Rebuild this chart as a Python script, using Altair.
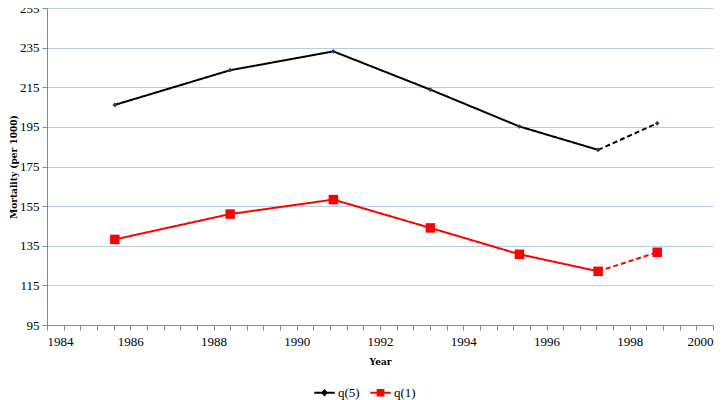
import altair as alt
import pandas as pd

years = [1985.63, 1988.40, 1990.88, 1993.21, 1995.35, 1997.24, 1998.66]
q5 = [206.1, 223.6, 233.1, 213.8, 195.2, 183.4, 196.8]
q1 = [138.2, 151.0, 158.3, 144.0, 130.7, 122.1, 131.7]
series_names = ["q(5)", "q(1)"]
series_colors = ["#000000", "#ff0000"]
y_ticks = [95, 115, 135, 155, 175, 195, 215, 235, 255]
x_ticks = [round(1984 + 0.4 * i, 1) for i in range(41)]

pts = []
lines = []
for name, vals in zip(series_names, [q5, q1]):
    for i, (x, v) in enumerate(zip(years, vals)):
        pts.append({"Year": x, "Value": v, "Series": name})
        if i <= 5:
            lines.append({"Year": x, "Value": v, "Series": name, "seg": "solid", "grp": name + "a"})
        if i >= 5:
            lines.append({"Year": x, "Value": v, "Series": name, "seg": "dashed", "grp": name + "b"})
pts = pd.DataFrame(pts)
lines = pd.DataFrame(lines)

xs = alt.Scale(domain=[1984, 2000], nice=False, zero=False)
ys = alt.Scale(domain=[95, 255], nice=False, zero=False)
cs = alt.Scale(domain=series_names, range=series_colors)

xax = alt.Axis(values=x_ticks, tickCount=len(x_ticks), grid=False, labelOverlap=False,
               labelExpr="abs(datum.value - round(datum.value/2)*2) < 0.01 ? format(datum.value, 'd') : ''",
               title="Year", tickSize=5, labelPadding=5, titlePadding=9)
yax = alt.Axis(values=y_ticks, tickCount=len(y_ticks), grid=True, gridColor="#b9c9e6", gridWidth=1,
               labelOverlap=False, title="Mortality (per 1000)", tickSize=5, labelPadding=3, titlePadding=1)

base = alt.Chart(pts)

legend_shapes = [
    "M-1,0H1M0,-0.22L0.22,0L0,0.22L-0.22,0Z",
    "M-1,0H1M-0.28,-0.28H0.28V0.28H-0.28Z",
]
leg_def = alt.Legend(title=None, orient="none", direction="horizontal", legendX=266, legendY=373)
leg = base.transform_filter("false").mark_point(filled=True, opacity=1).encode(
    x=alt.X("Year:Q", scale=xs, axis=xax),
    y=alt.Y("Value:Q", scale=ys, axis=yax),
    color=alt.Color("Series:N", scale=cs, sort=series_names, legend=leg_def),
    stroke=alt.Stroke("Series:N", scale=alt.Scale(domain=series_names, range=series_colors),
                      sort=series_names, legend=leg_def),
    shape=alt.Shape("Series:N", scale=alt.Scale(domain=series_names, range=legend_shapes),
                    sort=series_names, legend=leg_def),
)

line = alt.Chart(lines).mark_line(strokeWidth=2).encode(
    x=alt.X("Year:Q", scale=xs),
    y=alt.Y("Value:Q", scale=ys),
    color=alt.Color("Series:N", scale=cs, sort=series_names, legend=leg_def),
    detail="grp:N",
    strokeDash=alt.StrokeDash("seg:N", scale=alt.Scale(domain=["solid", "dashed"], range=[[1, 0], [5, 3]]), legend=None),
)

p5 = base.transform_filter(alt.datum.Series == "q(5)").mark_point(
    shape="diamond", filled=True, opacity=1, size=22, color="#1f3a5a"
).encode(x=alt.X("Year:Q", scale=xs), y=alt.Y("Value:Q", scale=ys))

p1 = base.transform_filter(alt.datum.Series == "q(1)").mark_point(
    shape="square", filled=True, opacity=1, size=90, color="#ff0000"
).encode(x=alt.X("Year:Q", scale=xs), y=alt.Y("Value:Q", scale=ys))

chart = (leg + line + p5 + p1).properties(
    width=666, height=317,
    autosize=alt.AutoSizeParams(type="none"),
    padding={"left": 39, "top": 0, "right": 6, "bottom": 80},
).configure_view(stroke=None).configure_axis(
    labelFont="Liberation Serif", labelFontSize=13, labelColor="#000",
    titleFont="DejaVu Serif", titleFontSize=9, titleFontWeight="bold", titleColor="#000",
    domainColor="#888", tickColor="#888",
).configure_legend(
    labelFont="Liberation Serif", labelFontSize=13, labelColor="#000",
    symbolSize=420, symbolStrokeWidth=2, columnPadding=6, labelOffset=2,
)

chart.save("out.html", embed_options={"renderer": "svg", "actions": False})
